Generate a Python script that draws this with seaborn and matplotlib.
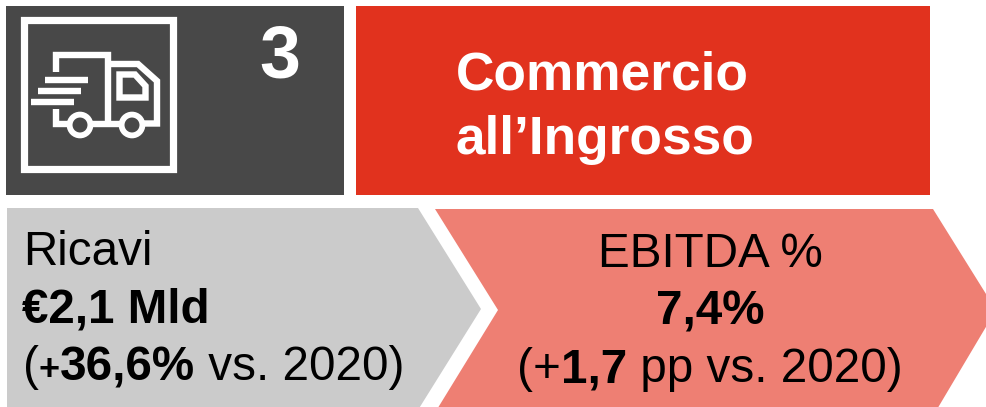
import seaborn as sns
import matplotlib
matplotlib.use("Agg")
import matplotlib.pyplot as plt
from matplotlib.patches import Polygon, Rectangle, Circle

W, H = 987, 407

# colours
DARK = "#484848"
RED = "#E1321E"
GREY = "#CBCBCB"
SALMON = "#EE7F73"

# labels
number_label = "3"
title_lines = ["Commercio", "all\u2019Ingrosso"]
left_title = "Ricavi"
left_value = "\u20ac2,1 Mld"
left_delta = [("(", "normal", 34.3), ("+", "bold", 26), ("36,6%", "bold", 34.3), (" vs. 2020)", "normal", 34.3)]
right_title = "EBITDA %"
right_value = "7,4%"
right_delta = [("(", "normal", 34.3), ("+", "normal", 34.3), ("1,7", "bold", 34.3), (" pp vs. 2020)", "normal", 34.3)]

sns.set_theme(style="white")
plt.rcParams["font.family"] = ["Liberation Sans", "DejaVu Sans"]

fig = plt.figure(figsize=(W / 100, H / 100), dpi=100)
ax = fig.add_axes([0, 0, 1, 1])
ax.set_xlim(0, W)
ax.set_ylim(H, 0)
ax.axis("off")


def draw_runs(x, y, runs, center=False):
    # bold and normal parts of one line, placed one after the other
    rend = fig.canvas.get_renderer()
    widths = []
    for s, weight, size in runs:
        # trailing spaces are not measured, so use a stand-in for them
        t = ax.text(0, 0, s.replace(" ", "\u00a0"), fontsize=size, fontweight=weight)
        widths.append(t.get_window_extent(rend).width)
        t.remove()
    if center:
        x = x - sum(widths) / 2
    for (s, weight, size), w in zip(runs, widths):
        ax.text(x, y, s.replace(" ", "\u00a0"), fontsize=size, fontweight=weight, color="black", va="baseline")
        x += w


# boxes
ax.add_patch(Rectangle((6, 6), 338, 189, color=DARK, lw=0))
ax.add_patch(Rectangle((356, 6), 574, 189, color=RED, lw=0))
ax.add_patch(Polygon([(7, 208), (418, 208), (481, 309), (418, 410), (7, 410)], color=GREY, lw=0))
ax.add_patch(Polygon([(435, 209), (933, 209), (996, 310), (936, 411), (436, 411), (498, 310)], color=SALMON, lw=0))

# truck icon
ax.add_patch(Rectangle((23.5, 19.5), 149, 149, fill=False, ec="white", lw=5.2))
stroke = dict(color="white", lw=4.6, solid_joinstyle="miter", solid_capstyle="butt")
ax.plot([55.5, 55.5, 107.5, 107.5], [72, 55, 55, 123.5], **stroke)
ax.plot([107.5, 138, 157, 157, 144], [64, 64, 81, 123.5, 123.5], **stroke)
ax.plot([55.5, 55.5, 68], [109, 123.5, 123.5], **stroke)
ax.plot([92, 120], [123.5, 123.5], **stroke)
ax.add_patch(Polygon([(119.5, 74.5), (135, 74.5), (145.5, 86), (145.5, 97.5), (119.5, 97.5)],
                     fill=False, ec="white", lw=4.6))
ax.plot([45, 88], [79.5, 79.5], **stroke)
ax.plot([38, 81], [90.5, 90.5], **stroke)
ax.plot([31, 74], [101.5, 101.5], **stroke)
ax.add_patch(Circle((80, 125), 10.4, fc=DARK, ec="white", lw=4.2, zorder=3))
ax.add_patch(Circle((132, 125), 10.4, fc=DARK, ec="white", lw=4.2, zorder=3))

# text
ax.text(280, 77, number_label, fontsize=53, fontweight="bold", color="white", ha="center", va="baseline")
ax.text(455.5, 90, title_lines[0], fontsize=38.3, fontweight="bold", color="white", va="baseline")
ax.text(455.5, 154, title_lines[1], fontsize=38.3, fontweight="bold", color="white", va="baseline")

ax.text(23, 265, left_title, fontsize=34.3, color="black", va="baseline")
ax.text(22, 323, left_value, fontsize=34.3, fontweight="bold", color="black", va="baseline")
draw_runs(23, 380, left_delta)

ax.text(710, 267, right_title, fontsize=34.3, color="black", ha="center", va="baseline")
ax.text(710, 325, right_value, fontsize=34.3, fontweight="bold", color="black", ha="center", va="baseline")
draw_runs(710, 382, right_delta, center=True)

fig.savefig("out.png", dpi=100)
